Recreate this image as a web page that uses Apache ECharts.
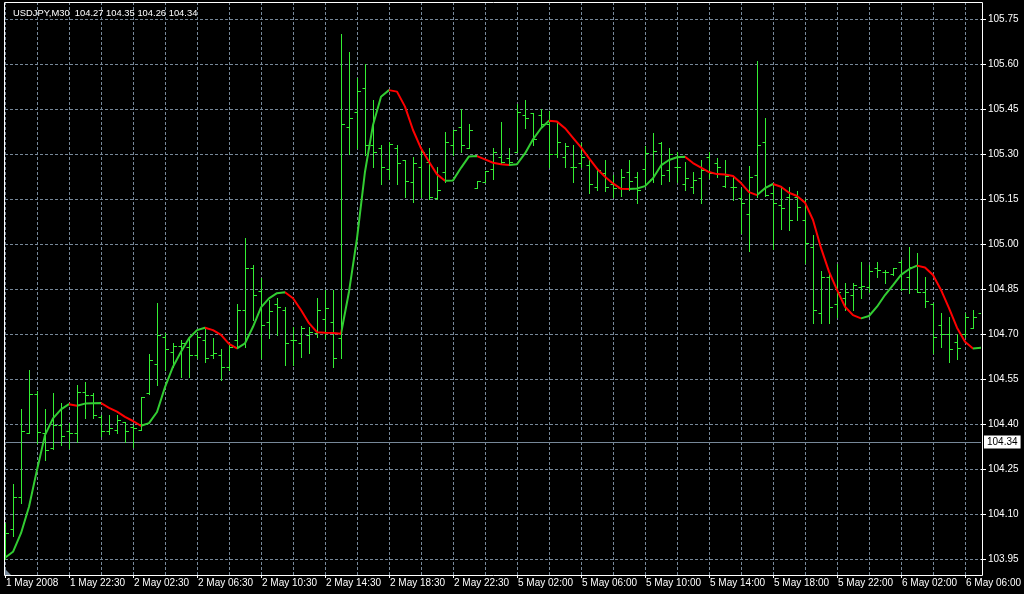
<!DOCTYPE html>
<html>
<head>
<meta charset="utf-8">
<script src="https://cdn.jsdelivr.net/npm/echarts@6/dist/echarts.min.js"></script>
<style>
html,body{margin:0;padding:0;background:#000;}
#chart{width:1024px;height:594px;}
</style>
</head>
<body>
<div id="chart"></div>
<script>
const headerText = 'USDJPY,M30  104.27 104.35 104.26 104.34';
const timeLabels = ['1 May 2008','1 May 22:30','2 May 02:30','2 May 06:30','2 May 10:30','2 May 14:30','2 May 18:30','2 May 22:30','5 May 02:00','5 May 06:00','5 May 10:00','5 May 14:00','5 May 18:00','5 May 22:00','6 May 02:00','6 May 06:00'];
const priceTicks = [103.95,104.10,104.25,104.40,104.55,104.70,104.85,105.00,105.15,105.30,105.45,105.60,105.75];
const bidPrice = 104.34;

const opens = [
103.963,104.050,104.157,104.370,104.500,104.370,104.320,104.397,104.377,104.370,
104.507,104.497,104.423,104.377,104.380,104.407,104.390,104.380,104.503,104.600,
104.690,104.640,104.660,104.658,104.630,104.680,104.630,104.630,104.591,104.680,
104.780,104.919,104.843,104.741,104.800,104.780,104.680,104.669,104.697,104.702,
104.749,104.740,104.687,105.390,105.439,105.521,105.330,105.319,105.250,105.319,
105.279,105.208,105.258,105.274,105.152,105.241,105.330,105.389,105.321,105.188,
105.206,105.250,105.289,105.288,105.308,105.430,105.438,105.430,105.400,105.300,
105.291,105.258,105.271,105.263,105.191,105.236,105.199,105.186,105.241,105.222,
105.250,105.216,105.338,105.247,105.258,105.199,105.189,105.219,105.291,105.271,
105.193,105.189,105.153,105.100,105.230,105.341,105.171,105.130,105.158,105.158,
105.080,104.991,104.771,104.890,104.800,104.819,104.829,104.858,104.857,104.919,
104.908,104.900,104.941,104.891,104.849,104.841,104.800,104.730,104.700,104.674,
104.700,104.719,104.769];
const highs = [
104.070,104.200,104.450,104.580,104.510,104.450,104.503,104.470,104.403,104.530,
104.540,104.503,104.430,104.430,104.430,104.407,104.397,104.490,104.633,104.803,
104.703,104.670,104.680,104.691,104.708,104.719,104.686,104.649,104.669,104.799,
105.019,104.930,104.886,104.813,104.819,104.789,104.724,104.726,104.724,104.819,
104.847,104.847,105.700,105.640,105.552,105.599,105.480,105.330,105.341,105.330,
105.280,105.291,105.319,105.319,105.258,105.372,105.380,105.450,105.400,105.210,
105.244,105.319,105.408,105.319,105.466,105.480,105.438,105.449,105.444,105.402,
105.338,105.330,105.336,105.280,105.252,105.280,105.230,105.249,105.280,105.241,
105.327,105.369,105.341,105.319,105.308,105.274,105.241,105.280,105.308,105.286,
105.280,105.222,105.186,105.260,105.611,105.419,105.200,105.194,105.191,105.178,
105.150,105.030,104.911,104.904,104.933,104.871,104.869,104.941,104.930,104.941,
104.913,104.919,104.947,104.991,104.969,104.891,104.802,104.771,104.756,104.700,
104.771,104.780,104.810];
const lows = [
103.950,104.027,104.137,104.370,104.337,104.280,104.317,104.330,104.320,104.340,
104.420,104.420,104.360,104.367,104.370,104.340,104.323,104.380,104.500,104.530,
104.580,104.590,104.558,104.558,104.619,104.608,104.619,104.547,104.580,104.654,
104.658,104.747,104.619,104.686,104.697,104.597,104.597,104.624,104.638,104.689,
104.686,104.589,104.619,105.300,105.319,105.297,105.258,105.199,105.217,105.199,
105.158,105.139,105.158,105.150,105.150,105.208,105.297,105.308,105.319,105.188,
105.206,105.217,105.266,105.269,105.308,105.387,105.330,105.391,105.258,105.291,
105.258,105.208,105.258,105.169,105.180,105.178,105.158,105.160,105.180,105.138,
105.200,105.208,105.200,105.210,105.208,105.180,105.169,105.138,105.219,105.224,
105.191,105.147,105.037,104.978,105.158,105.160,104.982,105.049,105.047,105.080,
104.937,104.738,104.738,104.738,104.758,104.780,104.780,104.819,104.841,104.891,
104.869,104.897,104.847,104.838,104.841,104.791,104.638,104.658,104.608,104.616,
104.691,104.719,104.727];
const closes = [
104.037,104.157,104.377,104.500,104.373,104.313,104.397,104.360,104.370,104.507,
104.497,104.430,104.377,104.387,104.413,104.377,104.387,104.490,104.613,104.697,
104.650,104.660,104.671,104.629,104.690,104.621,104.636,104.591,104.658,104.780,
104.919,104.829,104.730,104.778,104.789,104.669,104.679,104.719,104.708,104.780,
104.787,104.619,105.400,105.420,105.510,105.330,105.308,105.257,105.332,105.269,
105.210,105.269,105.307,105.158,105.180,105.339,105.380,105.330,105.380,105.210,
105.244,105.308,105.274,105.272,105.439,105.420,105.349,105.399,105.300,105.340,
105.327,105.258,105.291,105.200,105.247,105.191,105.188,105.222,105.211,105.180,
105.302,105.310,105.230,105.300,105.258,105.219,105.213,105.247,105.238,105.258,
105.227,105.191,105.137,105.222,105.330,105.163,105.138,105.119,105.080,105.124,
105.003,104.780,104.891,104.790,104.840,104.840,104.863,104.860,104.911,104.913,
104.908,104.919,104.849,104.922,104.841,104.811,104.689,104.700,104.650,104.652,
104.758,104.758,104.797];
const maLine = [
103.954,103.974,104.036,104.124,104.247,104.363,104.419,104.449,104.466,104.461,
104.468,104.469,104.470,104.454,104.441,104.424,104.410,104.394,104.403,104.440,
104.523,104.591,104.641,104.686,104.713,104.721,104.713,104.697,104.667,104.652,
104.669,104.724,104.789,104.819,104.836,104.839,104.819,104.780,104.736,104.706,
104.704,104.703,104.701,104.841,105.019,105.241,105.397,105.491,105.513,105.508,
105.458,105.380,105.319,105.274,105.232,105.211,105.212,105.254,105.292,105.293,
105.282,105.271,105.266,105.263,105.266,105.302,105.349,105.386,105.411,105.408,
105.386,105.354,105.322,105.286,105.251,105.224,105.202,105.184,105.183,105.185,
105.193,105.219,105.262,105.280,105.289,105.291,105.270,105.255,105.240,105.233,
105.232,105.227,105.203,105.173,105.163,105.186,105.200,105.191,105.171,105.160,
105.138,105.080,104.987,104.908,104.847,104.791,104.763,104.752,104.760,104.791,
104.830,104.863,104.897,104.916,104.928,104.922,104.897,104.847,104.786,104.721,
104.674,104.652,104.654];

const yMin = 103.8967, yMax = 105.8067;
const barColor = '#33ee33';
const upColor = '#32cd32';
const downColor = '#ff0000';
const gridColor = '#778899';
const font = 'Liberation Sans, Arial, sans-serif';

const categories = opens.map((_, i) => String(i));
const ohlc = opens.map((o, i) => [i, o, highs[i], lows[i], closes[i]]);

const maPieces = [];
for (let i = 1; i < maLine.length; i++) {
  const color = maLine[i] >= maLine[i - 1] ? upColor : downColor;
  const last = maPieces[maPieces.length - 1];
  if (last && last.color === color) last.lte = i;
  else maPieces.push({ gt: i - 1, lte: i, color });
}
maPieces[0].gte = 0; delete maPieces[0].gt;

const chart = echarts.init(document.getElementById('chart'), null, { renderer: 'canvas' });
chart.setOption({
  backgroundColor: '#000',
  animation: false,
  textStyle: { fontFamily: font },
  title: {
    text: headerText, left: 8, top: 4,
    textStyle: { color: '#fff', fontSize: 9.4, fontWeight: 'normal', fontFamily: font }
  },
  grid: { left: 5, right: 43, top: 2, bottom: 19, outerBoundsMode: 'none', containLabel: false },
  xAxis: {
    type: 'category', data: categories, boundaryGap: false,
    axisLine: { show: false },
    axisTick: { show: true, interval: 7, length: 3, lineStyle: { color: '#fff' } },
    axisLabel: {
      interval: 7, color: '#fff', fontSize: 10, fontFamily: font, margin: 3, align: 'left',
      padding: [0, 0, 0, 1],
      formatter: (v, idx) => timeLabels[idx / 8] || ''
    },
    splitLine: { show: true, interval: 3, lineStyle: { color: gridColor, type: [3, 2], width: 1 } }
  },
  yAxis: {
    type: 'value', position: 'right', min: yMin, max: yMax, scale: true,
    axisLine: { show: false },
    axisTick: { show: true, length: 5, customValues: priceTicks, lineStyle: { color: '#fff' } },
    axisLabel: {
      customValues: priceTicks, color: '#fff', fontSize: 10, fontFamily: font, margin: 7,
      formatter: v => v.toFixed(2)
    },
    splitLine: { show: true, lineStyle: { color: gridColor, type: [3, 2], width: 1 } }
  },
  visualMap: {
    show: false, type: 'piecewise', seriesIndex: 1, dimension: 0, pieces: maPieces
  },
  series: [
    {
      type: 'custom', data: ohlc, encode: { x: 0, y: [1, 2, 3, 4] }, z: 2, clip: true,
      renderItem: (params, api) => {
        const i = api.value(0);
        const pO = api.coord([i, api.value(1)]);
        const pH = api.coord([i, api.value(2)]);
        const pL = api.coord([i, api.value(3)]);
        const pC = api.coord([i, api.value(4)]);
        const x = Math.round(pH[0]) + 0.5;
        const yO = Math.round(pO[1]) + 0.5;
        const yC = Math.round(pC[1]) + 0.5;
        const st = { stroke: barColor, lineWidth: 1 };
        return {
          type: 'group', children: [
            { type: 'line', shape: { x1: x, y1: Math.round(pH[1]), x2: x, y2: Math.round(pL[1]) + 1 }, style: st },
            { type: 'line', shape: { x1: x - 3, y1: yO, x2: x, y2: yO }, style: st },
            { type: 'line', shape: { x1: x, y1: yC, x2: x + 3.5, y2: yC }, style: st }
          ]
        };
      },
      markLine: {
        silent: true, symbol: ['none', 'none'], z: 1,
        lineStyle: { color: gridColor, type: 'solid', width: 1 },
        label: {
          show: true, position: 'end', distance: 3, formatter: bidPrice.toFixed(2),
          color: '#000', backgroundColor: '#fff', padding: [2, 3, 1, 3], fontSize: 10, fontFamily: font
        },
        data: [{ yAxis: bidPrice }]
      }
    },
    {
      type: 'line', data: maLine, symbol: 'none', z: 3,
      lineStyle: { width: 2 }
    }
  ],
  graphic: [
    { type: 'rect', shape: { x: 4.5, y: 2.5, width: 978, height: 573 }, style: { fill: null, stroke: '#fff', lineWidth: 1 }, z: 10, silent: true },
    { type: 'polygon', shape: { points: [[5, 569], [5, 575], [11, 575]] }, style: { fill: gridColor }, z: 11, silent: true }
  ]
});
</script>
</body>
</html>
